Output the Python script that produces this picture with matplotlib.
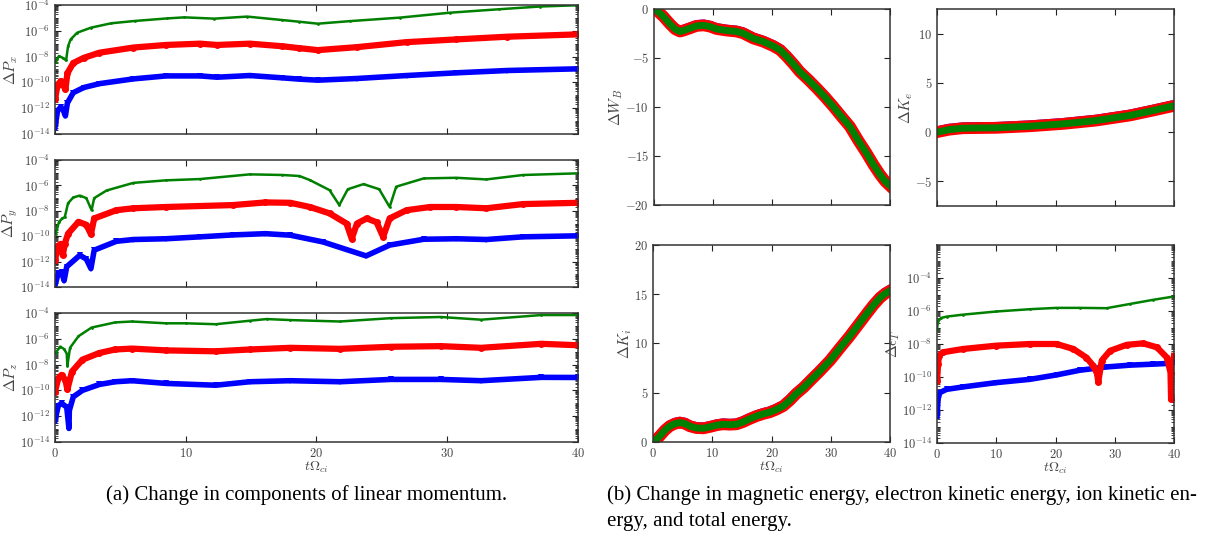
import matplotlib
matplotlib.use("Agg")
import matplotlib.pyplot as plt
import numpy as np
from matplotlib.ticker import LogLocator, NullFormatter, MultipleLocator

plt.rcParams['mathtext.fontset'] = 'cm'
plt.rcParams['font.family'] = 'serif'
plt.rcParams['font.serif'] = ['cmr10', 'DejaVu Serif']
plt.rcParams['axes.formatter.use_mathtext'] = True

# ---- data (log10 values for the log panels) ----
# delta P_x
px_g_t = [0.05, 0.3, 0.6, 0.85, 1.0, 1.2, 1.7, 2.75, 4.3, 6.1, 8.6, 9.9, 12.2, 14.7, 17.4, 18.7, 20.1, 22.6, 26.4, 30.2, 34.0, 37.1, 40.0]
px_g = [-8.4, -7.96, -8.1, -8.3, -7.2, -6.67, -6.15, -5.76, -5.42, -5.24, -5.04, -4.96, -5.06, -4.9, -5.17, -5.3, -5.45, -5.25, -4.98, -4.6, -4.33, -4.12, -4.02]
px_r_t = [0.0, 0.2, 0.45, 0.65, 0.8, 0.95, 1.4, 2.2, 3.4, 6.0, 8.5, 11.1, 12.4, 14.9, 17.4, 18.7, 20.1, 23.1, 26.9, 30.7, 34.6, 40.0]
px_r = [-11.3, -10.2, -9.9, -10.2, -10.55, -9.3, -8.5, -8.1, -7.7, -7.3, -7.1, -7.0, -7.1, -7.0, -7.2, -7.35, -7.5, -7.27, -6.88, -6.67, -6.46, -6.28]
px_b_t = [0.0, 0.2, 0.45, 0.65, 0.8, 0.95, 1.4, 2.2, 3.4, 6.0, 8.5, 11.1, 12.4, 14.9, 17.4, 18.7, 20.1, 23.1, 26.9, 30.7, 34.6, 40.0]
px_b = [-13.5, -12.2, -11.9, -12.2, -12.6, -11.6, -10.8, -10.4, -10.1, -9.73, -9.5, -9.5, -9.6, -9.47, -9.65, -9.75, -9.83, -9.7, -9.47, -9.26, -9.08, -8.95]

# delta P_y
py_g_t = [0.05, 0.3, 0.55, 0.75, 1.0, 1.4, 1.9, 2.4, 2.8, 3.0, 3.95, 6.0, 8.5, 11.1, 14.9, 17.4, 18.7, 19.5, 21.0, 21.75, 22.4, 23.6, 24.8, 25.6, 26.1, 28.2, 30.7, 33.0, 35.8, 40.0]
py_g = [-9.8, -8.9, -8.6, -8.5, -7.4, -6.95, -6.8, -7.0, -7.95, -7.0, -6.4, -5.8, -5.6, -5.5, -5.13, -5.18, -5.26, -5.58, -6.37, -7.55, -6.3, -5.9, -6.3, -7.7, -6.1, -5.45, -5.4, -5.53, -5.18, -5.05]
py_r_t = [0.0, 0.2, 0.45, 0.6, 0.75, 1.0, 1.8, 2.4, 2.75, 3.0, 4.7, 6.0, 8.5, 13.6, 16.1, 18.0, 19.5, 21.0, 22.3, 22.7, 23.1, 23.85, 24.6, 25.1, 25.6, 26.9, 28.7, 30.7, 33.0, 35.8, 40.0]
py_r = [-11.9, -10.8, -10.6, -11.5, -10.6, -9.8, -8.87, -9.1, -9.84, -8.6, -7.95, -7.8, -7.7, -7.55, -7.34, -7.37, -7.7, -8.2, -9.0, -10.2, -9.0, -8.6, -8.9, -10.05, -8.6, -7.95, -7.7, -7.7, -7.8, -7.47, -7.37]
py_b_t = [0.0, 0.25, 0.5, 0.7, 0.9, 1.9, 2.4, 2.75, 3.0, 4.7, 6.0, 8.5, 11.1, 13.6, 16.1, 18.0, 20.5, 23.8, 25.6, 28.2, 30.7, 33.0, 35.8, 40.0]
py_b = [-13.9, -12.9, -12.8, -13.5, -12.4, -11.5, -11.8, -12.55, -11.1, -10.4, -10.26, -10.2, -10.05, -9.9, -9.8, -9.92, -10.45, -11.55, -10.7, -10.24, -10.2, -10.26, -10.05, -9.97]

# delta P_z
pz_g_t = [0.05, 0.4, 0.7, 0.9, 0.95, 1.15, 1.8, 2.8, 4.6, 5.9, 8.5, 10.0, 12.3, 14.9, 16.2, 18.0, 21.8, 25.7, 29.5, 32.6, 37.2, 40.0]
pz_g = [-7.1, -6.6, -6.8, -7.15, -8.1, -6.7, -5.8, -5.13, -4.73, -4.66, -4.8, -4.8, -4.87, -4.6, -4.47, -4.55, -4.66, -4.4, -4.31, -4.52, -4.16, -4.16]
pz_r_t = [0.0, 0.25, 0.5, 0.8, 0.95, 1.3, 2.1, 3.4, 4.6, 5.9, 8.5, 12.3, 14.9, 18.0, 21.8, 25.7, 29.5, 32.6, 37.2, 40.0]
pz_r = [-10.1, -9.07, -8.8, -9.2, -9.93, -8.54, -7.62, -7.1, -6.83, -6.76, -6.9, -6.97, -6.83, -6.7, -6.78, -6.62, -6.57, -6.7, -6.39, -6.5]
pz_b_t = [0.0, 0.25, 0.5, 0.9, 1.07, 1.1, 1.4, 2.1, 3.4, 4.6, 5.9, 8.5, 12.3, 14.9, 18.0, 21.8, 25.7, 29.5, 32.6, 37.2, 40.0]
pz_b = [-12.35, -11.2, -11.0, -11.3, -12.95, -11.56, -10.5, -10.0, -9.54, -9.33, -9.25, -9.46, -9.6, -9.33, -9.25, -9.33, -9.15, -9.15, -9.25, -8.99, -9.0]

# energies (all three runs overlap)
wb_t = [0, 0.7, 1.6, 2.7, 3.6, 4.4, 5.0, 6.1, 7.2, 8.4, 9.5, 10.6, 12.3, 14.0, 15.1, 16.8, 18.5, 20.2, 21.4, 22.5, 23.6, 24.7, 26.2, 27.6, 29.0, 30.4, 31.8, 33.2, 34.6, 36.0, 37.2, 38.3, 39.2, 40.0]
wb = [0, -0.27, -0.78, -1.53, -2.07, -2.3, -2.2, -1.97, -1.73, -1.67, -1.8, -2.04, -2.2, -2.3, -2.48, -3.0, -3.33, -3.78, -4.2, -4.86, -5.6, -6.4, -7.25, -8.1, -9.0, -9.97, -11.0, -12.0, -13.4, -14.7, -15.9, -16.9, -17.6, -18.06]
ke_t = [0, 2, 4.4, 10, 15.7, 21.3, 26.9, 32.6, 36.5, 40]
ke = [0, 0.25, 0.4, 0.44, 0.6, 0.84, 1.18, 1.7, 2.2, 2.67]
ki_t = [0, 0.3, 1.1, 2.0, 2.8, 3.7, 4.5, 5.4, 6.2, 7.3, 8.5, 9.6, 10.7, 11.8, 13.0, 14.1, 15.2, 16.3, 17.5, 18.6, 19.7, 20.8, 22.0, 23.1, 24.2, 25.4, 26.5, 28.2, 29.9, 31.5, 33.2, 34.9, 36.1, 37.2, 38.3, 39.2, 40.0]
ki = [0, 0.1, 0.58, 1.19, 1.6, 1.86, 1.97, 1.86, 1.6, 1.42, 1.39, 1.53, 1.7, 1.8, 1.76, 1.8, 2.03, 2.34, 2.64, 2.85, 3.02, 3.29, 3.66, 4.24, 4.92, 5.53, 6.2, 7.22, 8.3, 9.5, 10.75, 12.1, 13.05, 13.9, 14.64, 15.08, 15.36]

# total energy error (log10)
et_g_t = [0, 0.17, 0.7, 1.6, 4.4, 10, 15.7, 20.2, 24.1, 28.6, 32.6, 36.5, 40]
et_g = [-7.1, -6.58, -6.42, -6.34, -6.22, -6.03, -5.89, -5.81, -5.81, -5.83, -5.57, -5.32, -5.12]
et_r_t = [0, 0.17, 0.34, 1.0, 4.4, 10, 15.7, 20.2, 23.0, 25.2, 26.4, 27.05, 27.2, 27.8, 29.2, 32.0, 34.8, 37.1, 38.8, 39.4, 39.5, 40]
et_r = [-10.24, -9.22, -8.7, -8.5, -8.3, -8.1, -8.0, -8.0, -8.3, -8.82, -9.33, -9.83, -10.3, -9.0, -8.41, -8.05, -7.96, -8.2, -8.82, -9.73, -11.36, -8.72]
et_b_t = [0, 0.17, 0.45, 1.6, 4.4, 10, 15.7, 20.2, 24.1, 28.6, 32.6, 36.5, 40]
et_b = [-12.37, -11.36, -10.95, -10.75, -10.6, -10.34, -10.14, -9.87, -9.59, -9.39, -9.28, -9.22, -9.16]

GREEN = (0, 0.5, 0)
TXT = '#444444'


def style(ax):
    for s in ax.spines.values():
        s.set_color('#333333')
        s.set_linewidth(1.1)
    ax.tick_params(which='both', direction='in', top=True, right=True,
                   labelsize=9, labelcolor=TXT, color='#222222')
    ax.tick_params(which='major', length=4, width=0.8)
    ax.tick_params(which='minor', length=2, width=0.6)
    ax.set_xlim(0, 40)
    ax.xaxis.set_major_locator(MultipleLocator(10))


def log_panel(ax, gt, g, rt, r, bt, b, ylabel, ylim=(1e-14, 1e-4)):
    ax.plot(bt, 10.0 ** np.array(b), '-', color='b', lw=4, marker='v', ms=4, mew=0)
    ax.plot(rt, 10.0 ** np.array(r), '-', color='r', lw=4.5, marker='o', ms=5, mew=0)
    ax.plot(gt, 10.0 ** np.array(g), '-', color=GREEN, lw=1.8, marker='.', ms=4, mew=0)
    ax.set_yscale('log')
    ax.set_ylim(*ylim)
    ax.set_yticks([10.0 ** k for k in range(-14, -3, 2)])
    ax.yaxis.set_minor_locator(LogLocator(base=10, subs=np.arange(1, 10), numticks=30))
    ax.yaxis.set_minor_formatter(NullFormatter())
    ax.set_ylabel(ylabel, fontsize=11, color=TXT, labelpad=0)
    style(ax)


def lin_panel(ax, t, v, ylabel):
    # the three runs lie on top of each other
    ax.plot(t, np.array(v) + 0.1, '-', color='b', lw=7)
    ax.plot(t, v, '-', color='r', lw=8.5)
    ax.plot(t, v, '-', color=GREEN, lw=5)
    ax.set_ylabel(ylabel, fontsize=11, color=TXT, labelpad=0)
    style(ax)


fig = plt.figure(figsize=(12.08, 5.40), dpi=100)

ax1 = fig.add_axes([0.0455, 0.7519, 0.4329, 0.2389])
ax2 = fig.add_axes([0.0455, 0.4685, 0.4329, 0.2352])
ax3 = fig.add_axes([0.0455, 0.1815, 0.4329, 0.2389])
log_panel(ax1, px_g_t, px_g, px_r_t, px_r, px_b_t, px_b, r'$\Delta P_x$')
log_panel(ax2, py_g_t, py_g, py_r_t, py_r, py_b_t, py_b, r'$\Delta P_y$')
log_panel(ax3, pz_g_t, pz_g, pz_r_t, pz_r, pz_b_t, pz_b, r'$\Delta P_z$')
ax1.set_xticklabels([])
ax2.set_xticklabels([])
ax3.set_xlabel(r'$t\Omega_{ci}$', fontsize=10, color=TXT, labelpad=0)

ax4 = fig.add_axes([0.5414, 0.6204, 0.1954, 0.3630])
ax5 = fig.add_axes([0.7757, 0.6185, 0.1962, 0.3648])
ax6 = fig.add_axes([0.5406, 0.1815, 0.1962, 0.3648])
ax7 = fig.add_axes([0.7757, 0.1796, 0.1962, 0.3667])

lin_panel(ax4, wb_t, wb, r'$\Delta W_B$')
ax4.set_ylim(-20, 0)
ax4.yaxis.set_major_locator(MultipleLocator(5))
ax4.set_xticklabels([])

lin_panel(ax5, ke_t, ke, r'$\Delta K_e$')
ax5.set_ylim(-7.5, 12.5)
ax5.yaxis.set_major_locator(MultipleLocator(5))
ax5.set_xticklabels([])

lin_panel(ax6, ki_t, ki, r'$\Delta K_i$')
ax6.set_ylim(0, 20)
ax6.yaxis.set_major_locator(MultipleLocator(5))
ax6.set_xlabel(r'$t\Omega_{ci}$', fontsize=10, color=TXT, labelpad=0)

log_panel(ax7, et_g_t, et_g, et_r_t, et_r, et_b_t, et_b, r'$\Delta\epsilon_T$', ylim=(1e-14, 1e-2))
ax7.set_xlabel(r'$t\Omega_{ci}$', fontsize=10, color=TXT, labelpad=0)

fig.text(0.254, 0.083, '(a) Change in components of linear momentum.',
         family='Liberation Serif', fontsize=15, ha='center', va='center')
fig.text(0.5025, 0.083, '(b) Change in magnetic energy, electron kinetic energy, ion kinetic en-',
         family='Liberation Serif', fontsize=15, ha='left', va='center')
fig.text(0.5025, 0.034, 'ergy, and total energy.',
         family='Liberation Serif', fontsize=15, ha='left', va='center')

fig.savefig('out.png', dpi=100)
